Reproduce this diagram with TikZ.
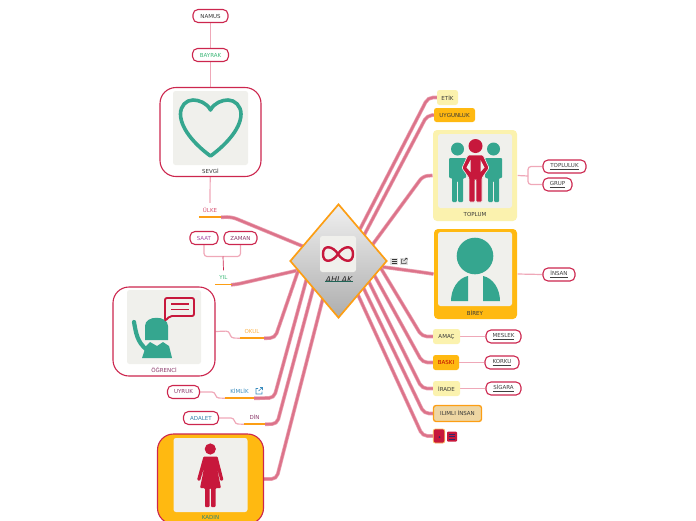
\documentclass[tikz,border=0pt]{standalone}
\usepackage{fontspec}
\setmainfont{DejaVu Sans}
\usepackage{xcolor}
\usepackage{tikz}
\usetikzlibrary{shapes.geometric,positioning,backgrounds}
\definecolor{crimson}{RGB}{199, 24, 60}
\definecolor{rimred}{RGB}{204, 38, 78}
\definecolor{branchpink}{RGB}{220, 115, 138}
\definecolor{branchedge}{RGB}{234, 160, 176}
\definecolor{twigpink}{RGB}{239, 168, 184}
\definecolor{tealgreen}{RGB}{53, 166, 143}
\definecolor{amber}{RGB}{255, 185, 17}
\definecolor{tagorange}{RGB}{252, 158, 20}
\definecolor{paleyellow}{RGB}{251, 242, 174}
\definecolor{sand}{RGB}{238, 214, 163}
\definecolor{panel}{RGB}{240, 240, 236}
\definecolor{inkgray}{RGB}{55, 55, 55}
\definecolor{maroon}{RGB}{140, 58, 107}
\definecolor{linkblue}{RGB}{58, 140, 190}
\definecolor{leafgreen}{RGB}{60, 184, 120}
\definecolor{navy}{RGB}{50, 40, 110}
\tikzset{
  lbl/.style={font=\fontsize{5.5}{6.5}\selectfont, text=inkgray, inner sep=0pt},
  pill/.style={lbl, draw=rimred, fill=white, line width=1.1pt, rounded corners=5pt, minimum height=13pt, inner sep=0pt},
  tag/.style={lbl, minimum height=14pt},
  tagline/.style={draw=tagorange, line width=1.5pt},
  chip/.style={lbl, rounded corners=2.5pt, inner sep=0pt, minimum height=15pt},
  bigbox/.style={rounded corners=#1, line width=1.1pt, inner sep=0pt},
  panelbox/.style={fill=panel, rounded corners=2.5pt, inner sep=0pt},
  branch/.style={draw=branchedge, double=branchpink, line width=0.7pt, double distance=2.3pt, rounded corners=5pt},
  twig/.style={draw=twigpink, line width=1.2pt, rounded corners=3pt},
}
\begin{document}
\begin{tikzpicture}[x=1pt, y=-1pt]
        \useasboundingbox (0,0) rectangle (696,520);

        % Centre
        \node[diamond, draw=tagorange, line width=1.7pt, top color=white!94!black, bottom color=black!32, minimum width=97pt, minimum height=114pt, inner sep=0pt] (ahlak) at (338.5,261) {};
        \node[panelbox, minimum size=36pt] (ahlakpic) at (338,254) {};
        \draw[crimson, line width=2.4pt] (323,254) .. controls (323,244) and (333,246) .. (338,254) .. controls (343,262) and (353,264) .. (353,254) .. controls (353,244) and (343,246) .. (338,254) .. controls (333,262) and (323,264) .. (323,254) -- cycle;
        \node[lbl, font=\fontsize{8}{9}\selectfont\itshape, text=black!85] (ahlaktxt) at (339,279.5) {AHLAK};
        \draw[tealgreen!60!black, line width=0.9pt] ([yshift=1pt]ahlaktxt.south west) -- ([yshift=1pt]ahlaktxt.south east);

        % Note and link marks beside the centre
        \node[fill=black!12, minimum width=8pt, minimum height=7pt, inner sep=0pt] (notemark) at (394,261) {};
        \node[fill=black!12, minimum width=8pt, minimum height=7pt, inner sep=0pt] (linkmark) at (404,261) {};
        \foreach \y in {259,261,263} \draw[inkgray, line width=0.5pt] (391.5,\y) -- (396.5,\y);
        \draw[inkgray, line width=0.5pt] (403,259) -- (401.5,259) -- (401.5,263.5) -- (406,263.5) -- (406,261.5) (403.5,261) -- (407,258) (405,258) -- (407,258) -- (407,260);

        % Left side, top
        \node[pill, minimum width=35pt] (namus) at (210.5,16) {NAMUS};
        \node[pill, minimum width=36pt, text=leafgreen] (bayrak) at (210.5,55) {BAYRAK};
        \node[bigbox=16pt, draw=rimred, fill=white, minimum width=101pt, minimum height=89pt] (sevgi) at (210.5,132) {};
        \node[panelbox, minimum width=75pt, minimum height=74pt] (sevgipic) at (210.5,128) {};
        \draw[tealgreen, line width=3.6pt, line join=round] (210.5,110) .. controls (207,103) and (199,100) .. (193,100) .. controls (186,100) and (180.5,106) .. (180.5,114) .. controls (180.5,130) and (198,147) .. (210.5,156) .. controls (223,147) and (241,130) .. (241,114) .. controls (241,106) and (235,100) .. (228,100) .. controls (222,100) and (214,103) .. (210.5,110) -- cycle;
        \node[lbl] (sevgitxt) at (210.5,171) {SEVGİ};
        \node[tag, minimum width=22pt, text=rimred!80] (ulke) at (210,210) {ÜLKE};
        \node[pill, minimum width=28pt, text=violet!70] (saat) at (204,238) {SAAT};
        \node[pill, minimum width=33pt, text=maroon] (zaman) at (240.5,238) {ZAMAN};
        \coordinate (saatjoin) at (223,256.5);
        \node[tag, minimum width=17pt, text=leafgreen] (yil) at (223.5,277.5) {YIL};

        % Left side, bottom
        \node[bigbox=16pt, draw=rimred, fill=white, minimum width=102pt, minimum height=89pt] (ogrenci) at (164,331.5) {};
        \node[panelbox, minimum size=74pt] (ogrencipic) at (164,327) {};
        \fill[tealgreen] (145,340) -- (145,326) .. controls (145,315) and (168,315) .. (168,326) -- (168,340) -- cycle;
        \fill[tealgreen] (142,358) -- (146,346) -- (150,342) -- (157,346) -- (163,342) -- (169,346) -- (172,358) -- cycle;
        \draw[tealgreen, line width=4.2pt, line cap=round] (134,322) .. controls (136,333) and (137,342) .. (147,350);
        \draw[crimson, line width=1.9pt, rounded corners=2pt] (165,298) -- (194,298) -- (194,316) -- (170,316) -- (165,321) -- cycle;
        \draw[crimson, line width=1.7pt] (171,304) -- (189,304) (171,309.5) -- (189,309.5);
        \node[lbl, text=maroon] (ogrencitxt) at (164,370) {ÖĞRENCİ};
        \node[tag, minimum width=24pt, text=tagorange!80] (okul) at (252,331) {OKUL};
        \node[tag, minimum width=29pt, text=linkblue] (kimlik) at (239.5,391) {KİMLİK};
        \draw[linkblue, line width=0.6pt] (258,388.5) -- (256,388.5) -- (256,394) -- (262,394) -- (262,391.5) (258.5,391) -- (262.5,387.5) (260,387.5) -- (262.5,387.5) -- (262.5,390);
        \node[pill, minimum width=32pt, text=maroon] (uyruk) at (183.5,392) {UYRUK};
        \node[tag, minimum width=21pt, text=maroon] (din) at (254.5,417) {DİN};
        \node[pill, minimum width=35pt, text=linkblue!90!black] (adalet) at (201,418) {ADALET};
        \node[bigbox=16pt, draw=rimred, fill=amber, minimum width=106pt, minimum height=90pt] (kadin) at (210.5,479) {};
        \node[panelbox, minimum size=74pt] (kadinpic) at (210.5,475) {};
        \fill[crimson] (210.3,449) circle (5.6);
        \fill[crimson, rounded corners=1pt] (203.5,456.5) -- (217.5,456.5) -- (223.5,480) -- (220.5,481) -- (216.5,466) -- (221,488) -- (215.5,488) -- (215.5,507) -- (211,507) -- (211,488) -- (209.5,488) -- (209.5,507) -- (205,507) -- (205,488) -- (200,488) -- (204.5,466) -- (200,481) -- (197,480) -- cycle;
        \node[lbl, text=tealgreen!80!black] (kadintxt) at (210.5,517) {KADIN};

        % Right side, top
        \node[chip, fill=paleyellow, minimum width=21pt] (etik) at (447.5,97.5) {ETİK};
        \node[chip, fill=amber, minimum width=41pt, minimum height=14pt] (uygunluk) at (454.5,115) {UYGUNLUK};
        \node[bigbox=4pt, fill=paleyellow, minimum width=84pt, minimum height=91pt] (toplum) at (475,175.5) {};
        \node[panelbox, minimum size=74pt] (toplumpic) at (475,171) {};
        \foreach \x in {457.5,493.5} {
            \fill[tealgreen] (\x,149) circle (6.5);
            \fill[tealgreen, rounded corners=1pt] (\x-8.5,158) -- (\x+8.5,158) -- (\x+8.5,178) -- (\x+5.5,178) -- (\x+5.5,202) -- (\x+0.6,202) -- (\x+0.6,181) -- (\x-0.6,181) -- (\x-0.6,202) -- (\x-5.5,202) -- (\x-5.5,178) -- (\x-8.5,178) -- cycle;
        }
        \fill[crimson] (475.5,146) circle (7);
        \fill[crimson, draw=panel, line width=0.6pt, rounded corners=1pt] (468,155) -- (483,155) -- (489,168) -- (482,178) -- (482,202) -- (476,202) -- (476,180) -- (475,180) -- (475,202) -- (469,202) -- (469,178) -- (462,168) -- cycle;
        \fill[panel] (470.5,160) -- (470.5,172) -- (466.5,167.5) -- cycle;
        \fill[panel] (480.5,160) -- (480.5,172) -- (484.5,167.5) -- cycle;
        \node[lbl] (toplumtxt) at (475,214) {TOPLUM};
        \node[pill, minimum width=43pt, text=black!75] (topluluk) at (564.5,166.5) {\underline{TOPLULUK}};
        \node[pill, minimum width=29pt, text=black!75] (grup) at (557.5,184.5) {\underline{GRUP}};
        \coordinate (toplumjoin) at (528,176);

        \node[bigbox=4pt, fill=amber, minimum width=83pt, minimum height=90pt] (birey) at (475.5,274) {};
        \node[panelbox, minimum size=74pt] (bireypic) at (475,269) {};
        \fill[tealgreen] (475,256) circle (18.3);
        \fill[tealgreen] (468,301) -- (468,276) .. controls (458,278) and (451,289) .. (451,301) -- cycle;
        \fill[tealgreen] (483,301) -- (483,276) .. controls (493,278) and (500,289) .. (500,301) -- cycle;
        \node[lbl] (bireytxt) at (475,313) {BİREY};
        \node[pill, minimum width=32pt, text=black!75] (insan) at (559,274.5) {\underline{İNSAN}};

        % Right side, bottom
        \node[chip, fill=paleyellow, minimum width=27pt] (amac) at (446.5,336.5) {AMAÇ};
        \node[pill, minimum width=35pt, text=black!75] (meslek) at (503.5,336.5) {\underline{MESLEK}};
        \node[chip, fill=amber, minimum width=26pt, text=red!75!black] (baski) at (446,362.5) {BASKI};
        \node[pill, minimum width=34pt, text=black!75] (korku) at (502,362.5) {\underline{KORKU}};
        \node[chip, fill=paleyellow, minimum width=27pt] (irade) at (446.5,388.5) {İRADE};
        \node[pill, minimum width=35pt, text=black!75] (sigara) at (503.5,388.5) {\underline{SİGARA}};
        \node[chip, fill=sand, draw=tagorange, line width=1.3pt, minimum width=48pt, minimum height=16pt] (ilimli) at (457.5,413.5) {ILIMLI İNSAN};
        \node[fill=crimson, draw=tagorange!70, line width=0.7pt, rounded corners=2pt, minimum width=11.5pt, minimum height=14pt, inner sep=0pt] (redbox) at (439,436) {};
        \fill[navy] (439.5,437) circle (1);
        \node[fill=crimson, rounded corners=1pt, minimum width=10pt, minimum height=10pt, inner sep=0pt] (redmark) at (452,436.5) {};
        \foreach \y in {434,436.5,439} \draw[navy, line width=0.7pt] (449,\y) -- (455,\y);

        \foreach \n in {ulke,yil,okul,kimlik,din} \draw[tagline] (\n.south west) -- (\n.south east);

        \begin{scope}[on background layer]
            % Branches, right
            \draw[branch] ([xshift=5pt]ahlak.center) -- (428,97.5) -- (etik.west);
            \draw[branch] ([xshift=12pt]ahlak.center) -- (427,115.5) -- (uygunluk.west);
            \draw[branch] ([xshift=22pt]ahlak.center) -- (423,176) -- (toplum.west);
            \draw[branch] (ahlak.center) -- (420,272) -- (birey.west);
            \draw[branch] ([xshift=38pt]ahlak.center) -- (422,336.5) -- (amac.west);
            \draw[branch] ([xshift=28pt]ahlak.center) -- (422.5,362.5) -- (baski.west);
            \draw[branch] ([xshift=20pt]ahlak.center) -- (422,388.5) -- (irade.west);
            \draw[branch] ([xshift=12pt]ahlak.center) -- (424,413.5) -- (ilimli.west);
            \draw[branch] ([xshift=4pt]ahlak.center) -- (422.6,436) -- (redbox.west);

            % Branches, left
            \draw[branch] (ahlak.center) -- (232,217) -- (ulke.south east);
            \draw[branch] (ahlak.center) -- (236,284.5) -- (yil.south east);
            \draw[branch] ([xshift=-37pt]ahlak.center) -- (275,338) -- (okul.south east);
            \draw[branch] ([xshift=-27pt]ahlak.center) -- (274,398) -- (kimlik.south east);
            \draw[branch] ([xshift=-18pt]ahlak.center) -- (277,424) -- (din.south east);
            \draw[branch] ([xshift=-6pt]ahlak.center) -- (276.5,479) -- (kadin.east);

            % Twigs
            \draw[twig] (namus) -- (bayrak);
            \draw[twig] (bayrak) -- (sevgi);
            \draw[twig] (sevgi) -- (ulke.north);
            \draw[twig] (saat.south) |- (saatjoin);
            \draw[twig] (zaman.south) |- (saatjoin);
            \draw[rimred, line width=0.7pt] (saatjoin) -- (yil.north);
            \draw[twig] (ogrenci.east) -- (229,331) -- (231,338) -- (okul.south west);
            \draw[twig] (uyruk.east) -- (215,392) -- (216,398) -- (kimlik.south west);
            \draw[twig] (adalet.east) -- (234,418) -- (235,424) -- (din.south west);
            \draw[twig] (toplum.east) -- (toplumjoin);
            \draw[twig] (toplumjoin) |- (topluluk.west);
            \draw[twig] (toplumjoin) |- (grup.west);
            \draw[twig] (birey.east) -- (insan.west);
            \draw[twig] (amac.east) -- (meslek.west);
            \draw[twig] (baski.east) -- (korku.west);
            \draw[twig] (irade.east) -- (sigara.west);
        \end{scope}
    \end{tikzpicture}
\end{document}
